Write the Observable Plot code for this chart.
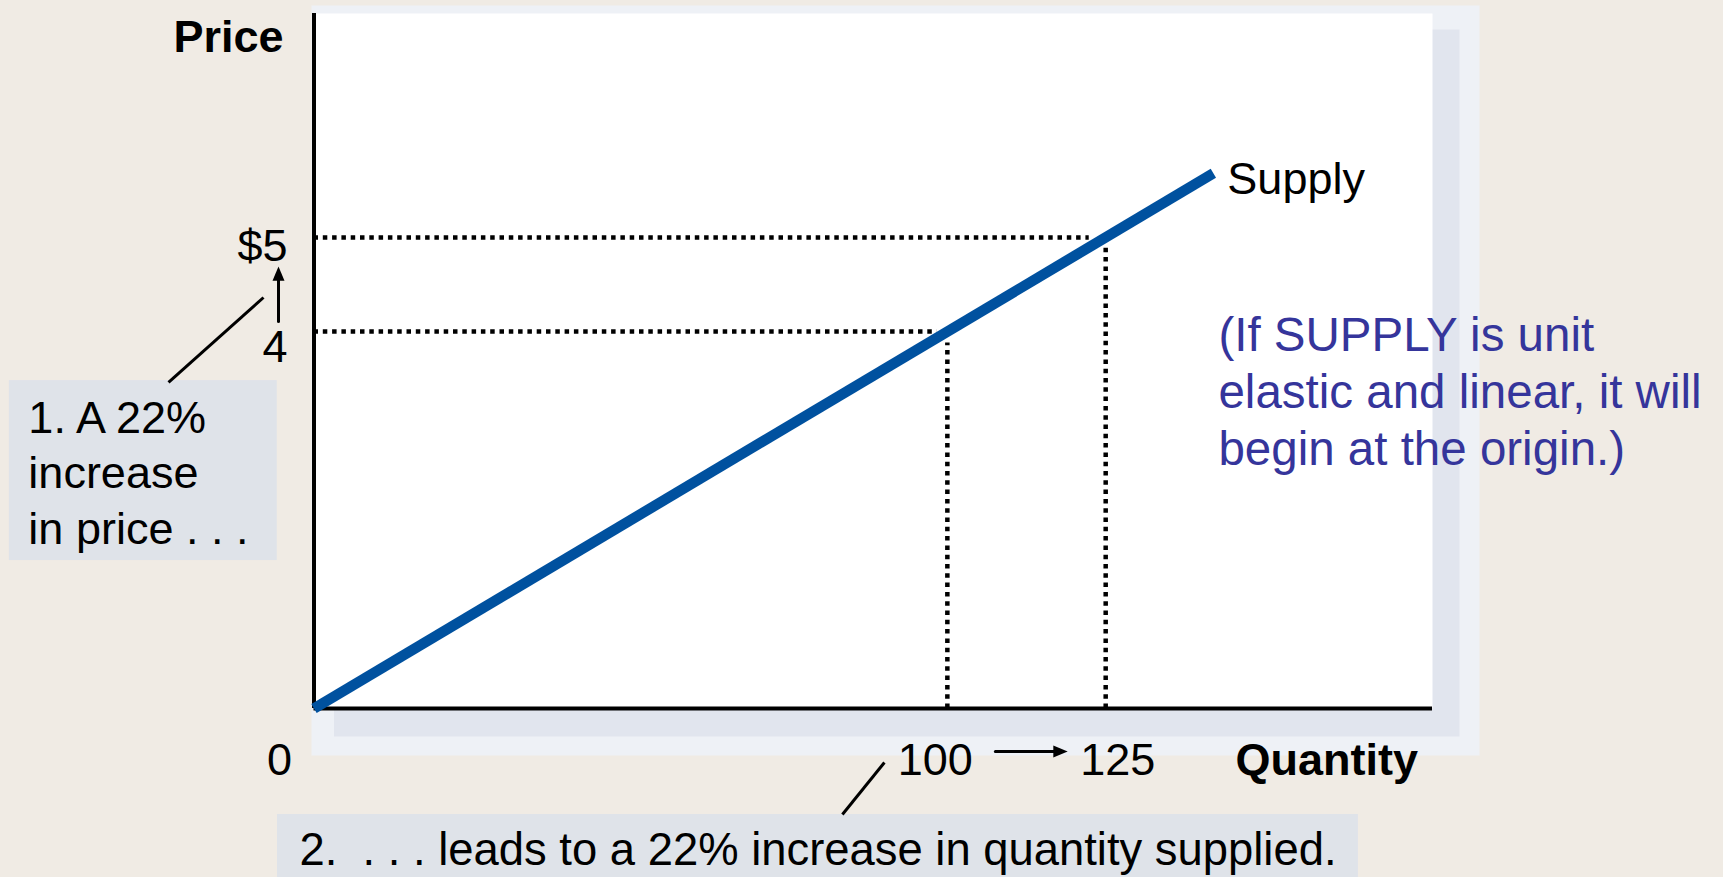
<!DOCTYPE html>
<html>
<head>
<meta charset="utf-8">
<script src="https://cdn.jsdelivr.net/npm/d3@7"></script>
<script src="https://cdn.jsdelivr.net/npm/@observablehq/plot@0.6"></script>
<style>
  html, body { margin: 0; padding: 0; background: #f0ebe4; }
  #chart svg text { white-space: pre; }
</style>
</head>
<body>
<div id="chart"></div>
<script>
// ---- data ----
const quantities = [100, 125];            // quantity supplied before / after
const prices = [4, 5];                    // price before / after
const supplyQuantity = [0, 142];          // supply curve end points (quantity)
const supplyPrice = [0, 5.68];            // supply curve end points (price)
const guideQuantityEnd = [98.4, 122.4];   // where the dotted price guides stop
const guidePriceEnd = [3.88, 4.89];       // where the dotted quantity guides stop
const priceTickLabels = ["4", "$5"];
const quantityTickValues = [0, 100, 125];
const quantityTickLabels = ["0", "100", "125"];
const priceTitle = "Price";
const quantityTitle = "Quantity";
const curveLabel = "Supply";
const note1 = ["1. A 22%", "increase", "in price . . ."];
const note2 = "2.\u00a0 . . . leads to a 22% increase in quantity supplied.";
const noteBlue = ["(If SUPPLY is unit", "elastic and linear, it will", "begin at the origin.)"];

// ---- tables built from the arrays ----
const supply = supplyQuantity.map((q, i) => ({q, p: supplyPrice[i]}));
const hGuides = prices.map((p, i) => ({p, qEnd: guideQuantityEnd[i]}));
const vGuides = quantities.map((q, i) => ({q, pEnd: guidePriceEnd[i]}));
const pTicks = prices.map((p, i) => ({p, label: priceTickLabels[i]}));
const qTicks = quantityTickValues.map((q, i) => ({q, label: quantityTickLabels[i]}));
const supplyEnd = supply[supply.length - 1];

const FONT = "'Liberation Sans', Arial, Helvetica, sans-serif";
const BLUE = "#00519f";
const NOTE_BLUE = "#35359b";
const BOX = "#dfe3e9";

const one = [0];
const c = v => () => v;

// filled arrowhead symbols (tip at the anchor point)
const headUp = {draw(ctx, size) { const r = Math.sqrt(size / Math.PI); ctx.moveTo(0, 0); ctx.lineTo(-0.5 * r, 1.2 * r); ctx.lineTo(0.5 * r, 1.2 * r); ctx.closePath(); }};
const headRight = {draw(ctx, size) { const r = Math.sqrt(size / Math.PI); ctx.moveTo(0, 0); ctx.lineTo(-1.2 * r, -0.5 * r); ctx.lineTo(-1.2 * r, 0.5 * r); ctx.closePath(); }};

const chart = Plot.plot({
  width: 1723,
  height: 877,
  marginLeft: 313.5,
  marginRight: 291,
  marginTop: 13,
  marginBottom: 169,
  x: {domain: [0, 176.6], axis: null},
  y: {domain: [0, 7.376], axis: null},
  style: {background: "#f0ebe4", fontFamily: FONT, fontSize: "45px", color: "black", overflow: "visible"},
  marks: [
    // panel with its soft shadow
    Plot.frame({fill: "#eef1f6", stroke: null, insetTop: -8, insetLeft: -2.5, insetRight: -47, insetBottom: -47}),
    Plot.frame({fill: "#e1e5ee", stroke: null, insetTop: 16, insetLeft: 20, insetRight: -27, insetBottom: -28, ariaLabel: "shadow-inner"}),
    Plot.frame({fill: "white", stroke: null}),

    // dotted guides
    Plot.ruleY(hGuides, {y: "p", x1: c(0), x2: "qEnd", stroke: "black", strokeWidth: 4.5, strokeDasharray: "4.5,4.8"}),
    Plot.ruleX(vGuides, {x: "q", y1: c(0), y2: "pEnd", stroke: "black", strokeWidth: 4.5, strokeDasharray: "4.5,4.8"}),

    // axes
    Plot.ruleX([0], {stroke: "black", strokeWidth: 4}),
    Plot.ruleY([0], {stroke: "black", strokeWidth: 4}),

    // supply curve
    Plot.line(supply, {x: "q", y: "p", stroke: BLUE, strokeWidth: 10.5, strokeLinecap: "butt"}),
    Plot.text([curveLabel], {x: c(supplyEnd.q), y: c(supplyEnd.p), text: d => d, textAnchor: "start", lineAnchor: "bottom", dx: 14, dy: 21, fill: "black"}),

    // tick labels
    Plot.text(pTicks, {x: c(0), y: "p", text: "label", textAnchor: "end", lineAnchor: "bottom", dx: -26.5, fill: "black", filter: d => d.p === 5, dy: 24}),
    Plot.text(pTicks, {x: c(0), y: "p", text: "label", textAnchor: "end", lineAnchor: "bottom", dx: -26.5, fill: "black", filter: d => d.p === 4, dy: 30}),
    Plot.text(qTicks, {x: "q", y: c(0), text: "label", textAnchor: "middle", lineAnchor: "bottom", dy: 66, fill: "black", filter: d => d.q === 0, dx: -34.5}),
    Plot.text(qTicks, {x: "q", y: c(0), text: "label", textAnchor: "middle", lineAnchor: "bottom", dy: 66, fill: "black", filter: d => d.q === 100, dx: -12}),
    Plot.text(qTicks, {x: "q", y: c(0), text: "label", textAnchor: "middle", lineAnchor: "bottom", dy: 66, fill: "black", filter: d => d.q === 125, dx: 12}),

    // axis titles
    Plot.text([priceTitle], {x: c(0), y: c(7.376), text: d => d, textAnchor: "end", lineAnchor: "bottom", dx: -30.5, dy: 38, fontWeight: "bold", fill: "black"}),
    Plot.text([quantityTitle], {x: c(145.5), y: c(0), text: d => d, textAnchor: "start", lineAnchor: "bottom", dy: 66, fontWeight: "bold", fill: "black"}),

    // arrows showing the changes (shaft + filled head)
    Plot.arrow(one, {x1: c(0), y1: c(prices[0]), x2: c(0), y2: c(prices[1]), dx: -35.5, insetStart: 10, insetEnd: 40, stroke: "black", strokeWidth: 3, headLength: 0}),
    Plot.dot(one, {x: c(0), y: c(prices[1]), dx: -35.5, dy: 29, r: 12, symbol: headUp, fill: "black", stroke: null}),
    Plot.arrow(one, {x1: c(quantities[0]), y1: c(0), x2: c(quantities[1]), y2: c(0), dy: 43, insetStart: 48, insetEnd: 50, stroke: "black", strokeWidth: 3, headLength: 0}),
    Plot.dot(one, {x: c(quantities[1]), y: c(0), dx: -38, dy: 43, r: 12, symbol: headRight, fill: "black", stroke: null}),

    // annotation box 1
    Plot.rect(one, {x1: c(-48.1), x2: c(-5.8), y1: c(1.57), y2: c(3.48), fill: BOX}),
    Plot.link(one, {x1: c(-7.97), y1: c(4.362), x2: c(-22.97), y2: c(3.46), stroke: "black", strokeWidth: 3}),
    Plot.text([note1.join("\n")], {x: c(-45.1), y: c(1.751), text: d => d, textAnchor: "start", lineAnchor: "bottom", lineHeight: 1.23, fill: "black"}),

    // annotation box 2
    Plot.rect(one, {x1: c(-5.76), x2: c(164.9), y1: c(-1.95), y2: c(-1.125), fill: BOX}),
    Plot.link(one, {x1: c(90.06), y1: c(-0.573), x2: c(83.43), y2: c(-1.125), stroke: "black", strokeWidth: 3}),
    Plot.text([note2], {x: c(-2.29), y: c(-1.656), text: d => d, textAnchor: "start", lineAnchor: "bottom", fontSize: 45.4, fill: "black"}),

    // blue note
    Plot.text([noteBlue.join("\n")], {x: c(142.8), y: c(2.579), text: d => d, textAnchor: "start", lineAnchor: "bottom", lineHeight: 1.21, fontSize: 47.5, fill: NOTE_BLUE})
  ]
});

document.getElementById("chart").appendChild(chart);

// soften the inner shadow with an SVG blur filter
const ns = "http://www.w3.org/2000/svg";
const defs = document.createElementNS(ns, "defs");
const filter = document.createElementNS(ns, "filter");
filter.setAttribute("id", "soft-shadow");
filter.setAttribute("x", "-10%"); filter.setAttribute("y", "-10%");
filter.setAttribute("width", "120%"); filter.setAttribute("height", "120%");
const blur = document.createElementNS(ns, "feGaussianBlur");
blur.setAttribute("stdDeviation", "6");
filter.appendChild(blur);
defs.appendChild(filter);
chart.insertBefore(defs, chart.firstChild);
chart.querySelectorAll('g[aria-label="shadow-inner"]').forEach(el => el.setAttribute("filter", "url(#soft-shadow)"));
</script>
</body>
</html>
